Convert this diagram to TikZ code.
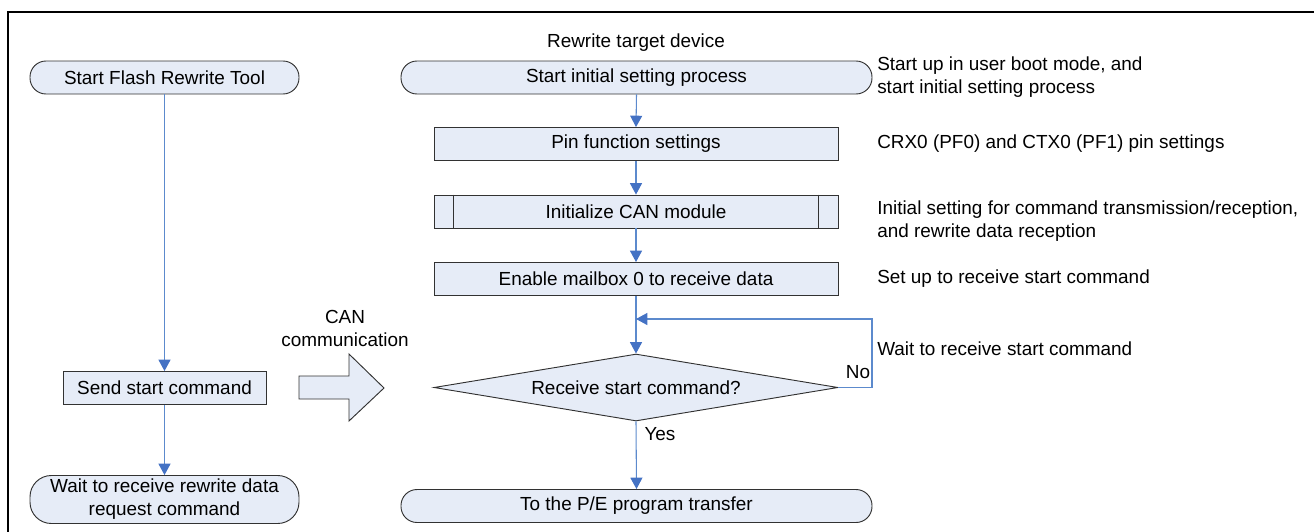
\documentclass[tikz,border=0pt]{standalone}
\usepackage{fontspec}
\setmainfont{Liberation Sans}
\usetikzlibrary{arrows.meta,shapes.geometric,calc}
\definecolor{boxfill}{RGB}{230,236,247}
\definecolor{boxline}{RGB}{50,50,50}
\definecolor{flowblue}{RGB}{92,138,205}
\definecolor{tipblue}{RGB}{68,114,196}
\tikzset{
  base/.style={draw=boxline, fill=boxfill, line width=0.7pt, inner sep=0pt, align=center,
               font=\fontsize{14.2}{17.25}\selectfont},
  terminal/.style={base, rounded corners=12pt, minimum height=24.75pt},
  process/.style={base, rectangle, minimum height=24.75pt},
  decision/.style={base, diamond, shape aspect=6, minimum width=303pt, minimum height=50.25pt},
  note/.style={anchor=west, inner sep=0pt, align=left, font=\fontsize{14.2}{17.25}\selectfont},
  lbl/.style={inner sep=0pt, align=center, font=\fontsize{14.2}{17.25}\selectfont},
  flow/.style={draw=flowblue, line width=0.8pt, -{Triangle[width=9pt,length=8.5pt,color=tipblue]}},
}
\begin{document}
\begin{tikzpicture}[x=0.75pt,y=-0.75pt]
\useasboundingbox (0,0) rectangle (1314,532);
% frame
\draw[line width=1.9pt, line cap=rect] (8,532) -- (8,12) -- (1314,12);

% left column
\node[terminal, minimum width=201.75pt] (tool) at (164.5,77.5) {Start Flash Rewrite Tool};
\node[process, minimum width=152.25pt] (send) at (164.5,388) {Send start command};
\node[terminal, minimum width=201.75pt, minimum height=36pt, rounded corners=16pt] (wait) at (164.5,499.5) {Wait to receive rewrite data\\request command};

% right column
\node[lbl] (title) at (636,43) {Rewrite target device};
\node[terminal, minimum width=353.25pt] (init) at (636.5,77.5) {Start initial setting process};
\node[process, minimum width=303pt] (pin) at (636,144) {Pin function settings};
\node[process, minimum width=303pt] (can) at (636,211.5) {Initialize CAN module};
\draw[boxline, line width=0.7pt] ($(can.north west)+(20,0)$) -- ($(can.south west)+(20,0)$);
\draw[boxline, line width=0.7pt] ($(can.north east)+(-20,0)$) -- ($(can.south east)+(-20,0)$);
\node[process, minimum width=303pt] (mbox) at (636,279) {Enable mailbox 0 to receive data};
\node[decision] (dec) at (636,387.5) {Receive start command?};
\node[terminal, minimum width=353.25pt] (pe) at (636.5,506) {To the P/E program transfer};

% notes
\node[note] (n1) at (877,77.5) {Start up in user boot mode, and\\start initial setting process};
\node[note] (n2) at (877,144) {CRX0 (PF0) and CTX0 (PF1) pin settings};
\node[note] (n3) at (877,221.5) {Initial setting for command transmission/reception,\\and rewrite data reception};
\node[note] (n4) at (877,278.5) {Set up to receive start command};
\node[note] (n5) at (877,348.5) {Wait to receive start command};
\node[lbl] (no) at (858,372) {No};
\node[lbl] (yes) at (660,434) {Yes};
\node[lbl] (canc) at (345,328) {CAN\\communication};

% big arrow
\draw[boxline, fill=boxfill, line width=0.7pt]
  (299,376) -- (349,376) -- (349,354) -- (384,388) -- (349,421) -- (349,399) -- (299,399) -- cycle;

% connectors
\draw[flow] (tool.south) -- (send.north);
\draw[flow] (send.south) -- (wait.north);
\draw[flow] (init.south) -- (pin.north);
\draw[flow] (pin.south) -- (can.north);
\draw[flow] (can.south) -- (mbox.north);
\draw[flow] (mbox.south) -- (dec.north);
\draw[flow] (dec.south) -- (pe.north);
\coordinate (loopR) at (872,387.5);
\coordinate (merge) at (636,319);
\draw[flow] (dec.east) -- (loopR) |- (merge);
\end{tikzpicture}
\end{document}
